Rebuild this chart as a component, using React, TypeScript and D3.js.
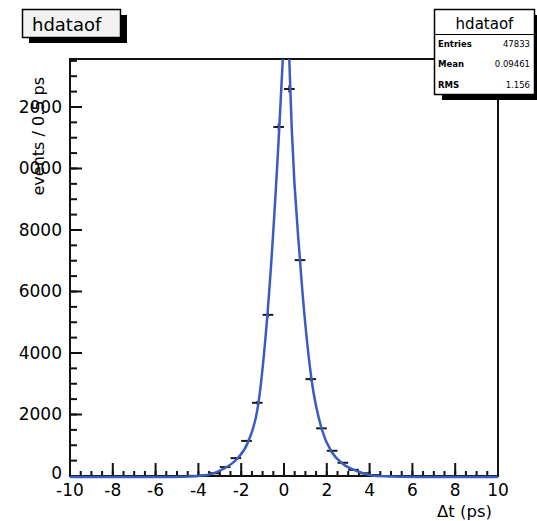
import React from "react";
import * as d3 from "d3";

// Histogram bins (0.5 ps wide)
const binCenters = [-4.25, -3.75, -3.25, -2.75, -2.25, -1.75, -1.25, -0.75, -0.25, 0.25, 0.75, 1.25, 1.75, 2.25, 2.75, 3.25, 3.75, 4.25];
const binCounts = [5, 15, 90, 290, 580, 1140, 2380, 5240, 11350, 12585, 7020, 3150, 1550, 820, 430, 200, 90, 30];

// Fit curve samples
const fitX = [-10, -5.5, -4.7, -3.6, -2.85, -2.2, -1.68, -1.2, -0.78, -0.22, -0.06, 0.12, 0.25, 0.36, 0.75, 1.29, 1.76, 2.23, 2.76, 3.4, 4.33, 6.4, 10];
const fitY = [0, 0, 5, 65, 260, 585, 1138, 2374, 5236, 11360, 13530, 15500, 13530, 11360, 7024, 3154, 1561, 813, 423, 195, 33, 0, 0];

const xMajorTicks = [-10, -8, -6, -4, -2, 0, 2, 4, 6, 8, 10];
const yMajorTicks = [0, 2000, 4000, 6000, 8000, 10000, 12000];

const statLabels = ["Entries", "Mean", "RMS"];
const statValues = ["47833", "0.09461", "1.156"];

const histName = "hdataof";
const xTitle = "Δt (ps)";
const yTitle = "events / 0.5 ps";

const W = 537;
const H = 521;
const L = 70, R = 498, T = 59, B = 476;
const BIN = 0.5;
const YMAX = 13560;

export default function App() {
  const x = d3.scaleLinear().domain([-10, 10]).range([L, R]);
  const y = d3.scaleLinear().domain([0, YMAX]).range([B, T]);

  const xMinor = d3.range(-10, 10.001, 0.5);
  const yMinor = d3.range(0, YMAX, 500);

  const line = d3
    .line<number>()
    .x((_, i) => x(fitX[i]))
    .y((_, i) => y(fitY[i]))
    .curve(d3.curveMonotoneX);
  const fitPath = line(fitX) || "";

  const numFont = "DejaVu Sans";

  return (
    <svg
      width={W}
      height={H}
      style={{ position: "absolute", left: 0, top: 0, display: "block", background: "#fff" }}
      fontFamily={numFont}
    >
      <defs>
        <clipPath id="plotClip">
          <rect x={L} y={T} width={R - L} height={B - T + 4} />
        </clipPath>
        <clipPath id="labelClip">
          <rect x={18} y={0} width={60} height={H} />
        </clipPath>
      </defs>
      <rect x={0} y={0} width={W} height={H} fill="#fff" />

      {/* y axis title */}
      <text
        transform={`translate(44,77) rotate(-90)`}
        textAnchor="end"
        fontSize={16}
        fill="#000"
      >
        {yTitle}
      </text>

      {/* frame */}
      <rect x={L} y={T} width={R - L} height={B - T} fill="none" stroke="#111" strokeWidth={2} />

      {/* x ticks */}
      {xMinor.map((v, i) => (
        <line key={"xm" + i} x1={x(v)} x2={x(v)} y1={B} y2={B - 5} stroke="#111" strokeWidth={2} />
      ))}
      {xMajorTicks.map((v) => (
        <line key={"xM" + v} x1={x(v)} x2={x(v)} y1={B} y2={B - 13} stroke="#111" strokeWidth={2} />
      ))}
      {/* y ticks */}
      {yMinor.map((v, i) => (
        <line key={"ym" + i} x1={L} x2={L + 7} y1={y(v)} y2={y(v)} stroke="#111" strokeWidth={2} />
      ))}
      {yMajorTicks.map((v) => (
        <line key={"yM" + v} x1={L} x2={L + 12} y1={y(v)} y2={y(v)} stroke="#111" strokeWidth={2} />
      ))}

      {/* x tick labels */}
      {xMajorTicks.map((v) => (
        <text key={"xl" + v} x={x(v)} y={496} textAnchor="middle" fontSize={17} fill="#000">
          {String(v)}
        </text>
      ))}
      {/* y tick labels */}
      <g clipPath="url(#labelClip)">
        {yMajorTicks.map((v) => (
          <text
            key={"yl" + v}
            x={62}
            y={y(v) + (v === 0 ? 3 : 6)}
            textAnchor="end"
            fontSize={17}
            fill="#000"
          >
            {String(v)}
          </text>
        ))}
      </g>

      {/* x axis title */}
      <text x={492} y={517} textAnchor="end" fontSize={16.5} fill="#000">
        {xTitle}
      </text>

      {/* data points */}
      {binCenters.map((c, i) => {
        const n = binCounts[i];
        const e = Math.sqrt(n);
        return (
          <g key={"p" + i} stroke="#1a1a1a" strokeWidth={2}>
            <line x1={x(c - BIN / 2)} x2={x(c + BIN / 2)} y1={y(n)} y2={y(n)} />
            <line x1={x(c)} x2={x(c)} y1={y(n - e)} y2={y(n + e)} />
          </g>
        );
      })}

      {/* fit curve */}
      <g clipPath="url(#plotClip)">
        <path d={fitPath} fill="none" stroke="#3a5bbf" strokeWidth={2.5} transform="translate(0,1)" />
      </g>

      {/* title box */}
      <rect x={29} y={15} width={98} height={28} fill="#000" />
      <rect x={22.5} y={9.5} width={98} height={28} fill="#f2f2f2" stroke="#000" strokeWidth={1.5} />
      <text x={32} y={31} fontSize={18} fill="#000">
        {histName}
      </text>

      {/* stats box */}
      <rect x={442} y={15} width={100} height={85} fill="#000" />
      <rect x={434.5} y={9.5} width={100} height={85} fill="#fff" stroke="#000" strokeWidth={1.5} />
      <line x1={434.5} x2={534.5} y1={34.5} y2={34.5} stroke="#000" strokeWidth={1.2} />
      <text x={484.5} y={29} textAnchor="middle" fontSize={15} fill="#000">
        {histName}
      </text>
      {statLabels.map((s, i) => (
        <g key={"s" + i}>
          <text x={438} y={[47, 67, 88][i]} fontSize={8.5} fontWeight="bold" fill="#000">
            {s}
          </text>
          <text x={530} y={[47, 67, 88][i]} textAnchor="end" fontSize={8.5} fill="#000">
            {statValues[i]}
          </text>
        </g>
      ))}
    </svg>
  );
}
